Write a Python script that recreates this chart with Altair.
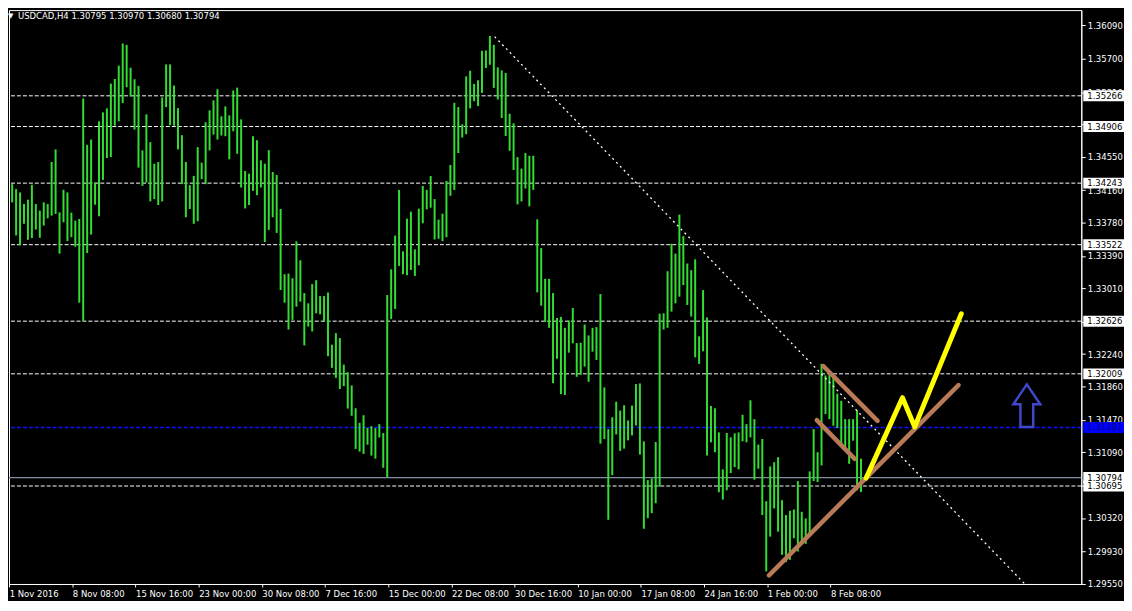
import json
import altair as alt
import pandas as pd

# ---------------- data ----------------
symbol_header = "USDCAD,H4  1.30795 1.30970 1.30680 1.30794"

# bar highs / lows (each entry = two consecutive H4 bars)
highs = [
    1.34231, 1.34173, 1.34134, 1.33998, 1.34049, 1.34223, 1.33998, 1.33921, 1.34018, 1.33998,
    1.34491, 1.34638, 1.33901, 1.34165, 1.34134, 1.33897, 1.33804, 1.33824, 1.35235, 1.34692,
    1.34754, 1.34250, 1.34967, 1.35072, 1.35119, 1.35409, 1.35464, 1.35619, 1.35879, 1.35863,
    1.35595, 1.35460, 1.35382, 1.34626, 1.35049, 1.34723, 1.34471, 1.34491, 1.35247, 1.35634,
    1.35634, 1.35386, 1.35122, 1.34805, 1.34491, 1.34219, 1.34328, 1.34665, 1.34483, 1.34956,
    1.35095, 1.35212, 1.35343, 1.35026, 1.35142, 1.35037, 1.35328,
    1.35362, 1.34990, 1.34385, 1.34354, 1.34793, 1.34746, 1.34510, 1.34471, 1.34630, 1.34374,
    1.34339, 1.33940, 1.33176, 1.33184, 1.33129, 1.33560, 1.33339, 1.32955, 1.32835, 1.33060,
    1.33106, 1.32920, 1.32920, 1.32963, 1.32350, 1.32486, 1.32428, 1.32117, 1.32028, 1.31873,
    1.31606, 1.31435, 1.31524, 1.31377, 1.31396, 1.31373, 1.31420, 1.31315, 1.32932, 1.33234,
    1.33629, 1.34164, 1.33443, 1.33827, 1.33909, 1.33467, 1.33944, 1.34211, 1.34164, 1.34327,
    1.34056, 1.33816, 1.33885, 1.34269, 1.34456,
    1.35184, 1.35134, 1.34932, 1.35494, 1.35560, 1.35405, 1.35448, 1.35793, 1.35797, 1.35967,
    1.35863, 1.35599, 1.35564, 1.35533, 1.35056, 1.34944, 1.34548, 1.34413, 1.34595, 1.34564,
    1.34564, 1.33819, 1.33482, 1.33122, 1.33122, 1.32955, 1.32664, 1.32676, 1.32548, 1.32633,
    1.32780, 1.32369, 1.32373, 1.32587, 1.32459, 1.32548, 1.32556, 1.32943, 1.31850, 1.31361,
    1.31501, 1.31683, 1.31578, 1.31641, 1.31462, 1.31637, 1.31889, 1.31896, 1.31218, 1.30764,
    1.30784, 1.31210, 1.32714, 1.32718, 1.33211,
    1.33533, 1.33417, 1.33874, 1.33622, 1.33301, 1.33223, 1.33351, 1.32448, 1.32990, 1.32669,
    1.31633, 1.31606, 1.31323, 1.30889, 1.31316, 1.31265, 1.31312, 1.31323, 1.31529, 1.31420,
    1.31699, 1.31478, 1.31180, 1.31246, 1.30517, 1.30924, 1.30974, 1.31033, 1.30529, 1.30354,
    1.30404, 1.30420, 1.30753, 1.30393, 1.30315, 1.30866, 1.31362, 1.31091, 1.32126, 1.31990,
    1.32002, 1.31963, 1.31777, 1.31692, 1.31478, 1.31478, 1.31478, 1.31583, 1.31013,
]
lows = [
    1.34018, 1.33630, 1.33514, 1.33766, 1.33579, 1.33599, 1.33700, 1.33603, 1.33746, 1.33831,
    1.33862, 1.33882, 1.33417, 1.33785, 1.33564, 1.33610, 1.33498, 1.32843, 1.32630, 1.33424,
    1.33641, 1.33990, 1.33855, 1.34281, 1.34537, 1.34549, 1.34917, 1.34967, 1.35181, 1.35367,
    1.35258, 1.34870, 1.34425, 1.34211, 1.34250, 1.34029, 1.34056, 1.33987, 1.34029, 1.35134,
    1.34921, 1.34917, 1.34638, 1.34231, 1.33843, 1.33940, 1.33766, 1.33797, 1.34289, 1.34231,
    1.34626, 1.34812, 1.34754, 1.34801, 1.34793, 1.34522, 1.34851,
    1.34587, 1.34192, 1.33947, 1.33986, 1.34153, 1.34102, 1.34192, 1.33552, 1.33695, 1.33843,
    1.33660, 1.32990, 1.32842, 1.32528, 1.32641, 1.32796, 1.32854, 1.32342, 1.32563, 1.32505,
    1.32718, 1.32707, 1.32621, 1.32214, 1.32079, 1.31962, 1.31831, 1.31865, 1.31602, 1.31517,
    1.31129, 1.31098, 1.31071, 1.31179, 1.31051, 1.31016, 1.31264, 1.30908, 1.30799, 1.32652,
    1.32769, 1.33273, 1.33176, 1.33164, 1.33226, 1.33156, 1.33281, 1.33773, 1.33936, 1.33955,
    1.33583, 1.33591, 1.33564, 1.33610, 1.34095,
    1.34164, 1.34595, 1.34777, 1.34816, 1.35118, 1.35203, 1.35145, 1.35300, 1.35591, 1.35630,
    1.35359, 1.35223, 1.35006, 1.34796, 1.34622, 1.34397, 1.33994, 1.34029, 1.34180, 1.33971,
    1.34164, 1.32963, 1.32808, 1.32617, 1.32548, 1.31900, 1.32187, 1.31772, 1.31761, 1.32257,
    1.32366, 1.31974, 1.31997, 1.32094, 1.31916, 1.32269, 1.32172, 1.31191, 1.31245, 1.30299,
    1.30822, 1.31299, 1.31106, 1.31133, 1.31230, 1.31288, 1.31404, 1.31063, 1.30194, 1.30318,
    1.30377, 1.30493, 1.30687, 1.32528, 1.32548,
    1.32738, 1.32835, 1.32913, 1.33049, 1.32816, 1.32680, 1.32203, 1.32126, 1.32273, 1.31052,
    1.31207, 1.31091, 1.30622, 1.30536, 1.30645, 1.30846, 1.30916, 1.30889, 1.31219, 1.31207,
    1.31265, 1.30769, 1.30897, 1.30354, 1.29695, 1.30102, 1.30432, 1.30160, 1.29889, 1.29804,
    1.29831, 1.30083, 1.29928, 1.30056, 1.30017, 1.30141, 1.30753, 1.30742, 1.30936, 1.31537,
    1.31478, 1.31401, 1.31374, 1.31188, 1.31149, 1.30955, 1.31226, 1.30645, 1.30625,
]

date_labels = ["1 Nov 2016", "8 Nov 08:00", "15 Nov 16:00", "23 Nov 00:00", "30 Nov 08:00",
               "7 Dec 16:00", "15 Dec 00:00", "22 Dec 08:00", "30 Dec 16:00", "10 Jan 00:00",
               "17 Jan 08:00", "24 Jan 16:00", "1 Feb 00:00", "8 Feb 08:00"]
bars_per_label = 16      # one label every 32 H4 bars = 16 plotted entries
label_offset = -0.75

price_ticks = [1.29550, 1.29930, 1.30320, 1.30700, 1.31090, 1.31470, 1.31860, 1.32240, 1.32620,
               1.33010, 1.33390, 1.33780, 1.34160, 1.34550, 1.34930, 1.35310, 1.35700, 1.36090]

white_levels = [1.35266, 1.34906, 1.34243, 1.33522, 1.32626, 1.32009, 1.30695]
blue_level = [1.31381]
bid_level = [1.30794]

box_prices = [1.35266, 1.34906, 1.34243, 1.33522, 1.32626, 1.32009, 1.31381, 1.30794, 1.30695]
box_fills = ["#ffffff"] * 6 + ["#0000ff", "#ffffff", "#ffffff"]
box_text = ["#000000"] * 6 + ["#000080", "#000000", "#000000"]

# drawn objects (bar index, price)
diag_k = [122.2, 256.5]
diag_p = [1.35959, 1.29547]
support_k = [191.7, 239.7]
support_p = [1.29648, 1.31877]
chan_up_k = [205.5, 219.2]
chan_up_p = [1.32098, 1.31458]
chan_lo_k = [203.8, 213.4]
chan_lo_p = [1.31466, 1.31013]
zig_k = [216.3, 225.5, 228.6, 240.4]
zig_p = [1.30788, 1.31730, 1.31388, 1.32711]
arrow_k = [257.0]
arrow_p = [1.31635]

# ---------------- chart ----------------
W, H = 1080, 578
X_DOM = [-0.8, 270.8]
Y_DOM = [1.29547, 1.36270]
FONT = "DejaVu Sans Condensed, Liberation Sans, sans-serif"
FS = 9.5

date_ticks = [m * bars_per_label + label_offset for m in range(len(date_labels))]
label_expr = "%s[round((datum.value - (%s)) / %d)]" % (json.dumps(date_labels), label_offset, bars_per_label)

xscale = alt.Scale(domain=X_DOM, nice=False, zero=False)
yscale = alt.Scale(domain=Y_DOM, nice=False, zero=False)
xaxis = alt.Axis(orient="bottom", values=date_ticks, labelExpr=label_expr, labelAlign="left",
                 labelColor="white", labelFont=FONT, labelFontSize=FS, tickColor="white", tickSize=3,
                 labelPadding=2, domainColor="white", grid=False, labelOverlap=False, labelBound=False,
                 labelFlush=False, title=None)
yaxis = alt.Axis(orient="right", values=price_ticks, format=".5f", labelColor="white", labelFont=FONT,
                 labelFontSize=FS, tickColor="white", tickSize=4, labelPadding=2, domainColor="white",
                 grid=False, labelOverlap=False, labelBound=False, labelFlush=False, title=None)


def X(f):
    return alt.X(f"{f}:Q", scale=xscale, axis=xaxis)


def Y(f):
    return alt.Y(f"{f}:Q", scale=yscale, axis=yaxis)


bars_df = pd.DataFrame({"k": list(range(len(highs))), "high": highs, "low": lows})
bars = alt.Chart(bars_df).mark_rule(color="#33dd33", strokeWidth=2).encode(
    x=X("k"), y=Y("high"), y2="low")

lv_white = alt.Chart(pd.DataFrame({"p": white_levels})).mark_rule(
    color="white", strokeDash=[4, 2], strokeWidth=1).encode(y=Y("p"))
lv_blue = alt.Chart(pd.DataFrame({"p": blue_level})).mark_rule(
    color="#1010ff", strokeDash=[4, 2], strokeWidth=1.6).encode(y=Y("p"))
lv_bid = alt.Chart(pd.DataFrame({"p": bid_level})).mark_rule(
    color="#8090a0", strokeWidth=1.2).encode(y=Y("p"))


def seg(ks, ps, **kw):
    df = pd.DataFrame({"k": ks, "p": ps, "o": list(range(len(ks)))})
    return alt.Chart(df).mark_line(**kw).encode(x=X("k"), y=Y("p"), order="o:Q")


diag = seg(diag_k, diag_p, color="white", strokeWidth=1.3, strokeDash=[2, 3.5])
support = seg(support_k, support_p, color="#b97a57", strokeWidth=4.5, strokeCap="round")
chan_up = seg(chan_up_k, chan_up_p, color="#b97a57", strokeWidth=4.5, strokeCap="round")
chan_lo = seg(chan_lo_k, chan_lo_p, color="#b97a57", strokeWidth=4.5, strokeCap="round")
zig = seg(zig_k, zig_p, color="#ffff00", strokeWidth=5, strokeCap="round", strokeJoin="round")

arrow_path = "M0,-1L0.63,-0.07L0.3,-0.07L0.3,1L-0.3,1L-0.3,-0.07L-0.63,-0.07Z"
arrow = alt.Chart(pd.DataFrame({"k": arrow_k, "p": arrow_p})).mark_point(
    shape=arrow_path, size=43 * 43, filled=False, stroke="#3f48cc", strokeWidth=2.5, opacity=1
).encode(x=X("k"), y=Y("p"))

half = 5.5 * (Y_DOM[1] - Y_DOM[0]) / H
box_df = pd.DataFrame({
    "p": box_prices,
    "top": [v + half for v in box_prices],
    "bot": [v - half for v in box_prices],
    "fill": box_fills,
    "tc": box_text,
    "label": [f"{v:.5f}" for v in box_prices],
})
boxes = alt.Chart(box_df).mark_rect().encode(
    x=alt.value(W + 2), x2=alt.value(W + 43), y=Y("top"), y2="bot",
    fill=alt.Fill("fill:N", scale=None))
box_labels = alt.Chart(box_df).mark_text(align="left", baseline="middle", font=FONT, fontSize=FS).encode(
    x=alt.value(W + 6), y=Y("p"), text="label:N", color=alt.Color("tc:N", scale=None))

header = alt.Chart(pd.DataFrame({"t": [symbol_header]})).mark_text(
    align="left", baseline="top", font=FONT, fontSize=FS, color="white").encode(
    x=alt.value(9), y=alt.value(0.5), text="t:N")
tri = alt.Chart(pd.DataFrame({"t": ["\u25bc"]})).mark_text(
    align="left", baseline="top", font="DejaVu Sans", fontSize=7, color="white").encode(
    x=alt.value(-1), y=alt.value(2), text="t:N")

chart = alt.layer(
    lv_white, lv_blue, lv_bid, bars, diag, support, chan_up, chan_lo, zig, arrow,
    boxes, box_labels, header, tri
).properties(
    width=W, height=H, padding=0, background="black"
).configure_view(stroke="white", strokeWidth=1)

chart.save("out.html", embed_options={"renderer": "svg", "actions": False})
